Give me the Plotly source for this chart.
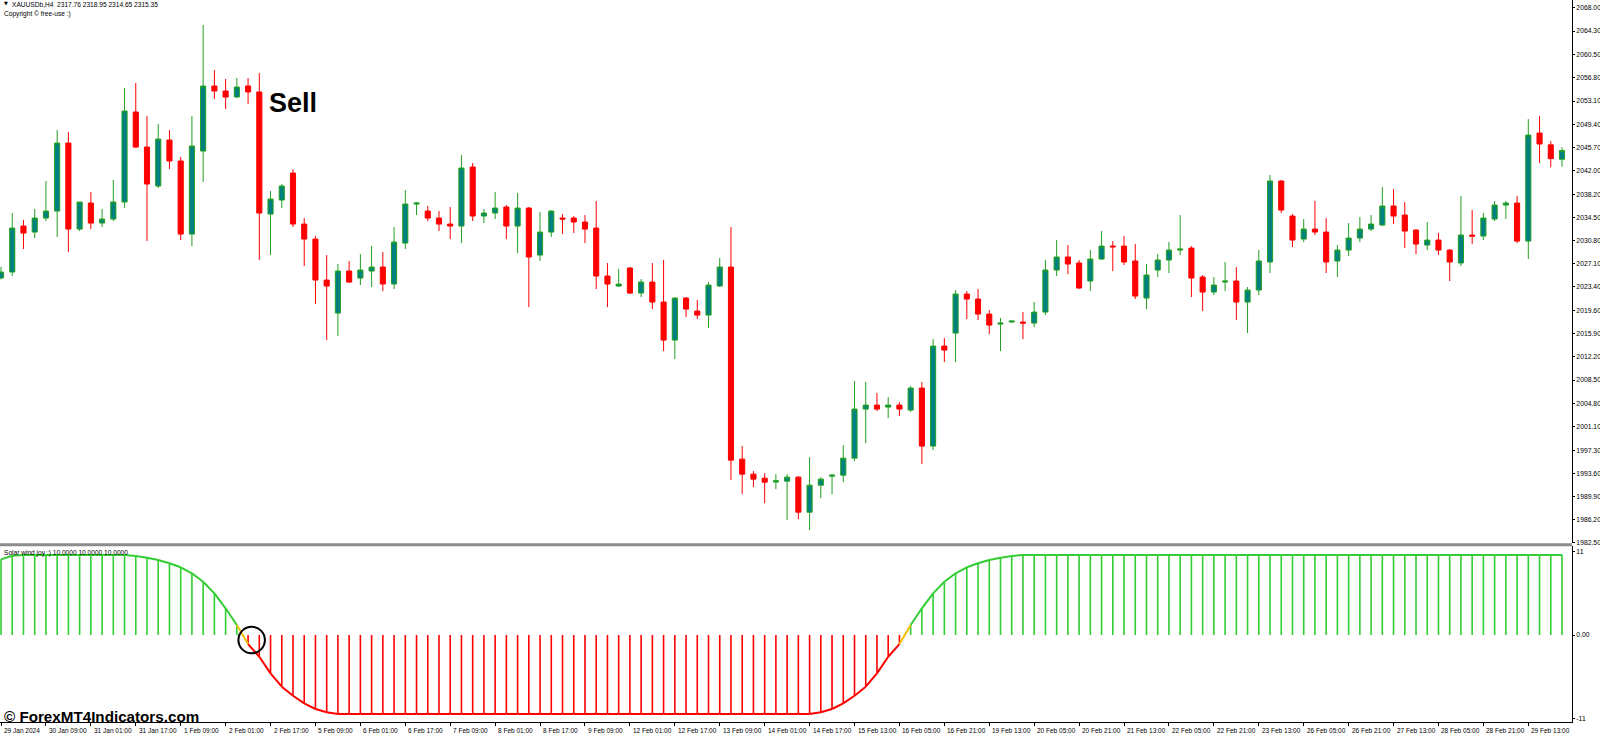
import plotly.graph_objects as go

# XAUUSDb H4 candles, 29 Jan - 29 Feb 2024
opens = [
    2024.81, 2025.77, 2033.12, 2032.16, 2034.40, 2035.52, 2046.39, 2032.64, 2036.80, 2033.60,
    2034.24, 2036.96, 2051.35, 2045.75, 2039.52, 2046.87, 2043.52, 2031.84, 2045.11, 2055.51,
    2054.71, 2053.75, 2055.51, 2054.55, 2035.04, 2037.28, 2041.60, 2033.44, 2031.04, 2024.49,
    2019.21, 2025.93, 2024.81, 2025.93, 2026.57, 2023.85, 2030.40, 2036.64, 2035.52, 2034.40,
    2033.44, 2033.12, 2042.56, 2034.72, 2035.20, 2036.16, 2033.12, 2036.00, 2028.48, 2032.16,
    2034.40, 2034.40, 2033.76, 2032.80, 2025.13, 2023.53, 2026.41, 2022.41, 2024.17, 2020.97,
    2014.89, 2021.61, 2019.53, 2018.89, 2023.53, 2026.57, 1995.86, 1993.46, 1992.82, 1992.20,
    1992.34, 1992.98, 1987.38, 1991.70, 1993.14, 1993.30, 1996.02, 2003.86, 2004.50, 2004.18,
    2004.50, 2003.70, 2007.22, 1997.94, 2013.93, 2016.01, 2022.25, 2021.45, 2019.05, 2017.45,
    2017.77, 2017.77, 2017.61, 2019.37, 2026.09, 2028.17, 2027.21, 2024.33, 2027.85, 2029.92,
    2029.92, 2027.53, 2021.61, 2026.09, 2027.69, 2029.28, 2029.60, 2024.97, 2022.57, 2024.17,
    2024.33, 2020.97, 2022.89, 2027.37, 2040.32, 2034.72, 2031.04, 2032.64, 2032.16, 2027.53,
    2029.28, 2031.20, 2032.64, 2033.28, 2036.32, 2034.88, 2032.48, 2030.08, 2030.88, 2029.28,
    2027.21, 2031.68, 2031.52, 2034.24, 2036.48, 2036.80, 2030.72, 2047.99, 2046.10, 2043.80,
]
highs = [
    2026.60, 2035.20, 2034.08, 2035.84, 2040.32, 2048.47, 2048.15, 2036.96, 2038.56, 2035.84,
    2040.48, 2055.19, 2055.99, 2050.71, 2049.43, 2048.47, 2044.16, 2050.71, 2065.26, 2058.07,
    2056.63, 2056.79, 2056.79, 2057.59, 2038.72, 2039.84, 2042.24, 2034.40, 2031.52, 2028.48,
    2027.05, 2027.53, 2028.64, 2029.92, 2028.96, 2032.96, 2038.88, 2036.96, 2036.32, 2035.52,
    2036.16, 2044.47, 2043.20, 2035.84, 2038.56, 2036.48, 2038.40, 2036.16, 2035.36, 2035.60,
    2035.04, 2034.72, 2034.88, 2037.12, 2027.21, 2026.25, 2026.57, 2024.65, 2027.21, 2027.69,
    2021.70, 2021.77, 2021.29, 2024.17, 2028.01, 2032.96, 1997.94, 1993.94, 1993.62, 1993.46,
    1993.46, 1993.14, 1996.18, 1992.98, 1993.40, 1998.10, 2008.34, 2008.18, 2006.42, 2005.78,
    2004.98, 2007.54, 2008.18, 2015.05, 2015.21, 2022.89, 2022.73, 2023.05, 2019.69, 2018.41,
    2018.00, 2019.37, 2020.97, 2027.69, 2030.88, 2030.08, 2027.69, 2029.28, 2032.32, 2030.72,
    2031.52, 2030.24, 2027.05, 2028.64, 2030.56, 2034.88, 2029.92, 2025.29, 2024.97, 2027.37,
    2026.57, 2023.37, 2029.28, 2041.28, 2040.48, 2035.04, 2034.24, 2037.12, 2034.40, 2030.08,
    2033.60, 2034.56, 2034.88, 2039.36, 2039.04, 2036.96, 2032.60, 2033.76, 2032.00, 2029.44,
    2037.92, 2035.68, 2035.20, 2037.12, 2037.12, 2037.92, 2050.23, 2050.71, 2046.70, 2045.70,
]
lows = [
    2024.60, 2025.13, 2029.44, 2031.20, 2033.92, 2031.36, 2028.96, 2032.32, 2032.64, 2032.96,
    2033.92, 2036.00, 2045.60, 2030.72, 2039.20, 2042.24, 2030.88, 2029.92, 2040.16, 2053.43,
    2051.83, 2053.59, 2052.63, 2027.69, 2028.48, 2036.00, 2032.96, 2026.73, 2020.65, 2014.89,
    2015.53, 2024.01, 2023.69, 2023.37, 2022.73, 2023.05, 2029.44, 2034.88, 2033.92, 2032.32,
    2031.04, 2030.40, 2033.92, 2033.60, 2034.24, 2031.04, 2028.80, 2020.17, 2027.53, 2031.36,
    2031.84, 2032.00, 2030.40, 2023.05, 2020.17, 2023.37, 2022.25, 2021.77, 2019.85, 2013.13,
    2011.86, 2018.57, 2018.25, 2016.81, 2023.37, 1992.50, 1990.26, 1991.38, 1988.82, 1991.06,
    1986.10, 1986.26, 1984.51, 1989.62, 1990.26, 1992.18, 1995.54, 1998.42, 2003.54, 2002.42,
    2002.74, 2003.38, 1995.06, 1997.30, 2011.38, 2011.38, 2018.25, 2018.09, 2015.85, 2013.13,
    2017.70, 2015.05, 2016.97, 2018.89, 2025.13, 2025.45, 2023.10, 2022.73, 2027.69, 2025.93,
    2026.89, 2021.45, 2019.85, 2024.97, 2025.61, 2028.48, 2021.77, 2019.53, 2022.09, 2022.73,
    2018.09, 2016.01, 2022.09, 2025.61, 2035.20, 2029.76, 2030.56, 2031.68, 2025.61, 2024.97,
    2028.32, 2030.56, 2032.32, 2033.12, 2033.44, 2029.60, 2028.64, 2029.28, 2028.48, 2024.33,
    2026.73, 2030.24, 2030.88, 2033.92, 2034.24, 2030.40, 2027.85, 2043.20, 2042.50, 2042.60,
]
closes = [
    2025.77, 2032.80, 2032.00, 2034.40, 2035.52, 2046.39, 2032.64, 2036.96, 2033.60, 2034.24,
    2036.96, 2051.51, 2045.75, 2039.84, 2047.03, 2043.52, 2031.84, 2045.91, 2055.51, 2054.71,
    2053.75, 2055.35, 2054.55, 2035.20, 2037.44, 2039.52, 2033.44, 2031.04, 2024.49, 2023.53,
    2025.93, 2024.17, 2026.09, 2026.57, 2023.85, 2030.56, 2036.64, 2036.80, 2034.40, 2033.44,
    2033.12, 2042.40, 2034.72, 2035.20, 2036.00, 2033.12, 2036.00, 2028.17, 2032.16, 2035.52,
    2034.24, 2033.76, 2032.64, 2025.13, 2023.85, 2023.85, 2022.41, 2024.17, 2020.97, 2014.89,
    2021.61, 2019.85, 2018.89, 2023.69, 2026.57, 1995.70, 1993.46, 1992.66, 1992.18, 1992.40,
    1992.98, 1987.38, 1991.70, 1992.66, 1993.30, 1996.02, 2003.86, 2004.50, 2003.86, 2004.50,
    2003.86, 2007.22, 1997.94, 2013.93, 2013.29, 2022.25, 2021.45, 2019.05, 2017.29, 2017.61,
    2017.93, 2017.61, 2019.37, 2026.09, 2028.17, 2027.05, 2023.21, 2027.85, 2029.92, 2029.80,
    2027.37, 2021.93, 2025.29, 2027.69, 2029.28, 2029.44, 2024.81, 2022.57, 2023.69, 2024.33,
    2020.97, 2022.89, 2027.53, 2040.32, 2035.68, 2030.88, 2032.64, 2032.16, 2027.37, 2029.28,
    2031.20, 2032.64, 2033.44, 2036.32, 2034.72, 2032.32, 2030.24, 2030.88, 2029.28, 2027.37,
    2031.68, 2031.52, 2034.40, 2036.48, 2036.80, 2030.72, 2047.67, 2046.24, 2043.90, 2045.20,
]

# Solar wind joy histogram (one value per bar)
solar_wind = [
    9.97, 10.45, 10.54, 10.54, 10.54, 10.54, 10.54, 10.54, 10.54, 10.54,
    10.54, 10.54, 10.41, 10.18, 9.88, 9.45, 8.92, 8.13, 7.02, 5.49,
    3.52, 1.32, -1.19, -2.86, -5.05, -6.81, -8.00, -9.00, -9.75, -10.18,
    -10.41, -10.41, -10.41, -10.41, -10.41, -10.41, -10.41, -10.41, -10.41, -10.41,
    -10.41, -10.41, -10.41, -10.41, -10.41, -10.41, -10.41, -10.41, -10.41, -10.41,
    -10.41, -10.41, -10.41, -10.41, -10.41, -10.41, -10.41, -10.41, -10.41, -10.41,
    -10.41, -10.41, -10.41, -10.41, -10.41, -10.41, -10.41, -10.41, -10.41, -10.41,
    -10.41, -10.41, -10.41, -10.18, -9.75, -9.00, -8.00, -6.81, -5.05, -2.86,
    -1.19, 1.32, 3.52, 5.49, 7.02, 8.13, 8.92, 9.45, 9.88, 10.18,
    10.41, 10.54, 10.54, 10.54, 10.54, 10.54, 10.54, 10.54, 10.54, 10.54,
    10.54, 10.54, 10.54, 10.54, 10.54, 10.54, 10.54, 10.54, 10.54, 10.54,
    10.54, 10.54, 10.54, 10.54, 10.54, 10.54, 10.54, 10.54, 10.54, 10.54,
    10.54, 10.54, 10.54, 10.54, 10.54, 10.54, 10.54, 10.54, 10.54, 10.54,
    10.54, 10.54, 10.54, 10.54, 10.54, 10.54, 10.54, 10.54, 10.54, 10.54,
]

time_labels = [
    '29 Jan 2024', '30 Jan 09:00', '31 Jan 01:00', '31 Jan 17:00', '1 Feb 09:00',
    '2 Feb 01:00', '2 Feb 17:00', '5 Feb 09:00', '6 Feb 01:00', '6 Feb 17:00',
    '7 Feb 09:00', '8 Feb 01:00', '8 Feb 17:00', '9 Feb 09:00', '12 Feb 01:00',
    '12 Feb 17:00', '13 Feb 09:00', '14 Feb 01:00', '14 Feb 17:00', '15 Feb 13:00',
    '16 Feb 05:00', '16 Feb 21:00', '19 Feb 13:00', '20 Feb 05:00', '20 Feb 21:00',
    '21 Feb 13:00', '22 Feb 05:00', '22 Feb 21:00', '23 Feb 13:00', '26 Feb 05:00',
    '26 Feb 21:00', '27 Feb 13:00', '28 Feb 05:00', '28 Feb 21:00', '29 Feb 13:00',
]
price_ticks = [
    2068.00, 2064.30, 2060.50, 2056.80, 2053.10, 2049.40, 2045.70, 2042.00,
    2038.20, 2034.50, 2030.80, 2027.10, 2023.40, 2019.60, 2015.90, 2012.20,
    2008.50, 2004.80, 2001.10, 1997.30, 1993.60, 1989.90, 1986.20, 1982.50,
]
ind_ticks = [11, 0, -11]
ind_tick_text = ['11', '0.00', '-11']

bars = list(range(len(opens)))
label_bars = bars[::4][:len(time_labels)]

SMALL = 'Liberation Sans, Arial, sans-serif'
GREEN = '#32cd32'
RED = '#ff0000'

fig = go.Figure()

fig.add_trace(go.Candlestick(
    x=bars, open=opens, high=highs, low=lows, close=closes,
    increasing=dict(line=dict(color='#22a022', width=1), fillcolor='#008080'),
    decreasing=dict(line=dict(color=RED, width=1), fillcolor=RED),
    whiskerwidth=0, showlegend=False, hoverinfo='skip',
    xaxis='x', yaxis='y'
))

# histogram sticks from zero to the value
up_x, up_y, dn_x, dn_y = [], [], [], []
for i, v in zip(bars, solar_wind):
    if v >= 0:
        up_x += [i, i, None]
        up_y += [0, v, None]
    else:
        dn_x += [i, i, None]
        dn_y += [0, v, None]

fig.add_trace(go.Scatter(x=up_x, y=up_y, mode='lines', line=dict(color=GREEN, width=1.6),
                         showlegend=False, hoverinfo='skip', xaxis='x', yaxis='y2'))
fig.add_trace(go.Scatter(x=dn_x, y=dn_y, mode='lines', line=dict(color=RED, width=1.6),
                         showlegend=False, hoverinfo='skip', xaxis='x', yaxis='y2'))

# the outline curve: green above, red below, yellow where it crosses zero
seg = {'g': ([], []), 'r': ([], []), 'y': ([], [])}
for i in bars[:-1]:
    a, b = solar_wind[i], solar_wind[i + 1]
    key = 'g' if a >= 0 and b >= 0 else ('r' if a < 0 and b < 0 else 'y')
    seg[key][0].extend([i, i + 1, None])
    seg[key][1].extend([a, b, None])
for key, col in (('g', GREEN), ('r', RED), ('y', '#f0c000')):
    fig.add_trace(go.Scatter(x=seg[key][0], y=seg[key][1], mode='lines',
                             line=dict(color=col, width=2), showlegend=False,
                             hoverinfo='skip', xaxis='x', yaxis='y2'))

annotations = []
for b, t in zip(label_bars, time_labels):
    annotations.append(dict(x=b, y=0, xref='x', yref='paper', text=t, showarrow=False,
                            xanchor='left', yanchor='top', xshift=1, yshift=-3,
                            font=dict(family=SMALL, size=6.5, color='#000')))

annotations += [
    dict(x=0.0015, y=0.9962, xref='paper', yref='paper', text='▼', showarrow=False,
         xanchor='left', yanchor='middle', font=dict(family='DejaVu Sans', size=5, color='#000')),
    dict(x=0.0062, y=0.9935, xref='paper', yref='paper',
         text='XAUUSDb,H4  2317.76 2318.95 2314.65 2315.35', showarrow=False,
         xanchor='left', yanchor='middle', font=dict(family=SMALL, size=6.6, color='#000')),
    dict(x=0.001, y=0.9808, xref='paper', yref='paper', text='Copyright © free-use :)',
         showarrow=False, xanchor='left', yanchor='middle',
         font=dict(family=SMALL, size=6.6, color='#000')),
    dict(x=0.001, y=0.2345, xref='paper', yref='paper',
         text='Solar wind joy :) 10.0000 10.0000 10.0000', showarrow=False,
         xanchor='left', yanchor='middle', font=dict(family=SMALL, size=6.6, color='#000')),
    dict(x=0.1698, y=0.858, xref='paper', yref='paper', text='<b>Sell</b>', showarrow=False,
         xanchor='left', yanchor='middle',
         font=dict(family='Liberation Sans, Arial, sans-serif', size=27, color='#000')),
    dict(x=0.001, y=0.0078, xref='paper', yref='paper', text='<b>© ForexMT4Indicators.com</b>',
         showarrow=False, xanchor='left', yanchor='middle',
         font=dict(family='Liberation Sans, Arial, sans-serif', size=15.2, color='#000')),
]

shapes = [
    # panel separator
    dict(type='line', xref='paper', yref='paper', x0=0, x1=1, y0=0.2456, y1=0.2456,
         line=dict(color='#8c8c8c', width=3)),
    # highlight circle at the signal bar
    dict(type='circle', xref='x', yref='y2', x0=21.14, x1=23.5, y0=-2.41, y1=1.09,
         line=dict(color='#000', width=2)),
]

price_axis_font = dict(family=SMALL, size=6.8, color='#000')

fig.update_layout(
    width=1600, height=736,
    margin=dict(l=0, r=28, t=0, b=14),
    paper_bgcolor='white', plot_bgcolor='white',
    showlegend=False,
    boxgap=0.35,
    annotations=annotations,
    shapes=shapes,
    xaxis=dict(
        range=[-0.09, 139.89], anchor='y2', domain=[0, 1],
        showgrid=False, zeroline=False, showline=True, linecolor='#000', linewidth=1,
        ticks='outside', ticklen=3, tickcolor='#000', tickvals=label_bars,
        showticklabels=False, rangeslider=dict(visible=False), fixedrange=True,
    ),
    yaxis=dict(
        domain=[0.2479, 1], anchor='x', side='right', range=[1982.45, 2069.26],
        tickvals=price_ticks, ticktext=['%.2f' % p for p in price_ticks],
        ticks='outside', ticklen=2, tickcolor='#000', showline=True, linecolor='#000',
        linewidth=1, showgrid=False, zeroline=False, automargin=False,
        ticklabelstandoff=0, tickfont=price_axis_font, fixedrange=True,
    ),
    yaxis2=dict(
        domain=[0, 0.2438], anchor='x', side='right', range=[-11.46, 11.73],
        tickvals=ind_ticks, ticktext=ind_tick_text,
        ticks='outside', ticklen=2, tickcolor='#000', showline=True, linecolor='#000',
        linewidth=1, showgrid=False, zeroline=False, automargin=False,
        ticklabelstandoff=0, tickfont=price_axis_font, fixedrange=True,
    ),
)

# the page body has a default 8px margin that would shift and clip the fixed-size figure
fig.write_html("out.html", config={'displayModeBar': False},
               post_script="document.body.style.margin='0';")
